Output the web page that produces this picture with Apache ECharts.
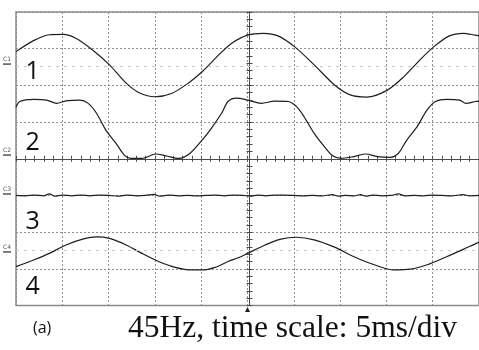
<!DOCTYPE html>
<html>
<head>
<meta charset="utf-8">
<script src="https://cdn.jsdelivr.net/npm/echarts@6/dist/echarts.min.js"></script>
<style>
  html, body { margin: 0; padding: 0; background: #fff; }
  #chart { width: 479px; height: 350px; }
</style>
</head>
<body>
<div id="chart"></div>
<script>
// time in ms (5 ms/div), amplitude in screen divisions (0 = bottom, 8 = top)
const trace1 = [
  [0, 6.92], [1.9, 7.22], [3.6, 7.38], [5.1, 7.39], [6.5, 7.28], [8.3, 6.96],
  [10.1, 6.56], [11.9, 6.06], [13.3, 5.80], [15.0, 5.69], [16.8, 5.78],
  [18.6, 6.06], [20.1, 6.37], [21.9, 6.83], [23.3, 7.15], [25.0, 7.37],
  [26.7, 7.42], [28.3, 7.35], [30.1, 7.05], [32.2, 6.56], [34.4, 6.01],
  [36.1, 5.74], [37.9, 5.68], [40.1, 5.87], [41.9, 6.24], [43.6, 6.69],
  [45.1, 7.05], [46.8, 7.35], [48.3, 7.42], [49.6, 7.37], [50.0, 7.35],
]
const trace2 = [
  [0, 5.40], [0.4, 5.56], [1.9, 5.62], [3.3, 5.60], [4.4, 5.51], [5.4, 5.58],
  [6.9, 5.60], [7.8, 5.51], [8.7, 5.24], [9.7, 4.78], [10.8, 4.42],
  [11.7, 4.10], [12.4, 4.01], [13.6, 4.01], [15.1, 4.13], [16.2, 4.08],
  [17.6, 4.01], [18.8, 4.15], [20.1, 4.51], [21.1, 4.83], [22.2, 5.24],
  [22.9, 5.56], [23.8, 5.65], [25.0, 5.60], [26.5, 5.51], [27.9, 5.57],
  [29.4, 5.56], [30.3, 5.42], [31.1, 5.15], [32.2, 4.69], [33.3, 4.33],
  [34.2, 4.08], [35.1, 4.01], [36.5, 4.06], [37.8, 4.13], [39.0, 4.06],
  [40.4, 4.04], [41.3, 4.15], [42.2, 4.51], [43.3, 4.87], [44.4, 5.33],
  [45.3, 5.56], [46.5, 5.62], [47.9, 5.60], [48.6, 5.51], [49.6, 5.56],
  [50.0, 5.57],
]
const trace3 = [
  [0, 3.0], [1.0, 2.99], [2.0, 3.01], [3.0, 2.99], [3.6, 3.04], [4.2, 2.98],
  [5.0, 3.01], [6.0, 2.99], [7.0, 3.01], [8.0, 2.99], [9.0, 3.01], [10.0, 3.0],
  [11.0, 2.98], [12.0, 3.01], [13.0, 2.99], [14.0, 3.0], [14.9, 3.03],
  [15.5, 2.98], [16.5, 3.01], [17.5, 2.99], [18.5, 3.0], [19.5, 2.99],
  [20.5, 3.0], [21.5, 3.01], [22.5, 2.99], [23.5, 3.01], [24.5, 3.0],
  [25.3, 2.98], [26.1, 3.01], [27.0, 2.99], [28.0, 3.01], [29.0, 3.01],
  [30.0, 3.0], [31.0, 2.99], [32.0, 3.0], [33.0, 2.99], [34.2, 3.02],
  [34.8, 2.98], [35.5, 3.0], [36.5, 2.99], [37.2, 3.02], [37.8, 2.98],
  [38.5, 3.01], [39.5, 2.99], [40.5, 3.0], [41.3, 3.04], [42.0, 2.99],
  [43.0, 3.0], [44.0, 2.99], [45.0, 3.01], [46.0, 3.0], [47.0, 2.99],
  [48.3, 3.02], [49.0, 2.99], [50.0, 3.0],
]
const trace4 = [
  [0, 1.06], [1.9, 1.24], [3.6, 1.42], [5.4, 1.65], [7.2, 1.81], [8.7, 1.87],
  [10.1, 1.83], [11.9, 1.65], [13.6, 1.42], [15.4, 1.20], [17.2, 1.04],
  [19.0, 0.97], [20.1, 0.97], [21.5, 1.04], [22.9, 1.20], [24.0, 1.30],
  [25.0, 1.42], [26.9, 1.65], [28.6, 1.81], [30.3, 1.86], [32.2, 1.79],
  [34.4, 1.59], [36.5, 1.33], [38.7, 1.11], [40.8, 0.97], [42.6, 0.99],
  [44.4, 1.11], [46.5, 1.33], [48.3, 1.53], [49.6, 1.68], [50.0, 1.72],
]
const traces = [trace1, trace2, trace3, trace4]
const channelNames = ["C1", "C2", "C3", "C4"]
const channelLevels = [6.58, 4.1, 3.04, 1.46]
const faintLevels = [6.53, null, null, 1.51]
const traceLabels = ["1", "2", "3", "4"]
const labelLevels = [6.37, 4.43, 2.29, 0.5]
const triggerTime = 25
const caption = "45Hz, time scale: 5ms/div"
const captionTag = "(a)"

const chart = echarts.init(document.getElementById("chart"), null, {
  renderer: "canvas",
})

const gridPx = { left: 16, top: 12, width: 467, height: 293.5 }
const ink = "#1e1e1e"
const dotted = { color: "#8f8f8f", type: [2, 2], width: 1 }

// center crosshair with fine ticks, drawn twice so ticks cross the line
const centerX = (inside, showLine) => ({
  type: "value", min: 0, max: 50, interval: 5, position: "bottom",
  offset: -gridPx.height / 2,
  axisLine: { show: showLine, lineStyle: { color: "#4a4a4a", width: 1 } },
  axisTick: { show: true, inside, length: 3, lineStyle: { color: "#4a4a4a" } },
  minorTick: { show: true, splitNumber: 5, length: 3, lineStyle: { color: "#4a4a4a" } },
  axisLabel: { show: false }, splitLine: { show: false },
})
const centerY = (inside, showLine) => ({
  type: "value", min: 0, max: 8, interval: 1, position: "left",
  offset: -gridPx.width / 2,
  axisLine: { show: showLine, lineStyle: { color: "#4a4a4a", width: 1 } },
  axisTick: { show: true, inside, length: 3, lineStyle: { color: "#4a4a4a" } },
  minorTick: { show: true, splitNumber: 5, length: 3, lineStyle: { color: "#4a4a4a" } },
  axisLabel: { show: false }, splitLine: { show: false },
})

chart.setOption({
  animation: false,
  backgroundColor: "#fff",
  grid: {
    ...gridPx,
    show: true,
    borderColor: "#8a8a8a",
    borderWidth: 1.5,
  },
  xAxis: [
    {
      type: "value", min: 0, max: 50, interval: 5,
      axisLine: { show: false }, axisTick: { show: false },
      axisLabel: { show: false },
      splitLine: { show: true, lineStyle: dotted },
    },
    centerX(true, true),
    centerX(false, false),
  ],
  yAxis: [
    {
      type: "value", min: 0, max: 8, interval: 1,
      axisLine: { show: false }, axisTick: { show: false },
      axisLabel: { show: false },
      splitLine: { show: true, lineStyle: dotted },
    },
    centerY(true, true),
    centerY(false, false),
  ],
  series: traces.map((data, i) => ({
    type: "line",
    xAxisIndex: 0,
    yAxisIndex: 0,
    data,
    showSymbol: false,
    smooth: 0.3,
    clip: false,
    lineStyle: { color: ink, width: 1.2 },
    markLine: faintLevels[i] == null ? undefined : {
      silent: true, symbol: "none", label: { show: false },
      lineStyle: { color: "#c8c8c8", type: [3, 5], width: 1 },
      data: [{ yAxis: faintLevels[i] }],
    },
    markPoint: {
      silent: true,
      data: [
        {
          coord: [0, channelLevels[i]],
          symbol: "rect", symbolSize: [8, 1.5], symbolOffset: [-9, 0],
          itemStyle: { color: "#555" },
          label: {
            show: true, formatter: channelNames[i], position: "top",
            distance: 1, fontSize: 6, color: "#555", rotate: 0,
            fontFamily: "DejaVu Sans",
          },
        },
        {
          coord: [1.8, labelLevels[i]],
          symbol: "rect", symbolSize: 1, itemStyle: { color: "rgba(0,0,0,0)" },
          label: {
            show: true, formatter: traceLabels[i], position: "inside",
            fontSize: 25, color: "#111", fontFamily: "Open Sans",
          },
        },
      ].concat(i === 2 ? [{
        coord: [triggerTime, 0],
        symbol: "triangle", symbolSize: [5, 5], symbolOffset: [0, 4],
        itemStyle: { color: ink }, label: { show: false },
      }] : []),
    },
  })),
  graphic: [
    {
      type: "text", left: 33, top: 320,
      style: { text: captionTag, fontSize: 16, fontFamily: "Open Sans", fill: "#111" },
    },
    {
      type: "text", left: 128, top: 313,
      style: { text: caption, fontSize: 31.5, fontFamily: "Liberation Serif", fill: "#111" },
    },
  ],
})
</script>
</body>
</html>
